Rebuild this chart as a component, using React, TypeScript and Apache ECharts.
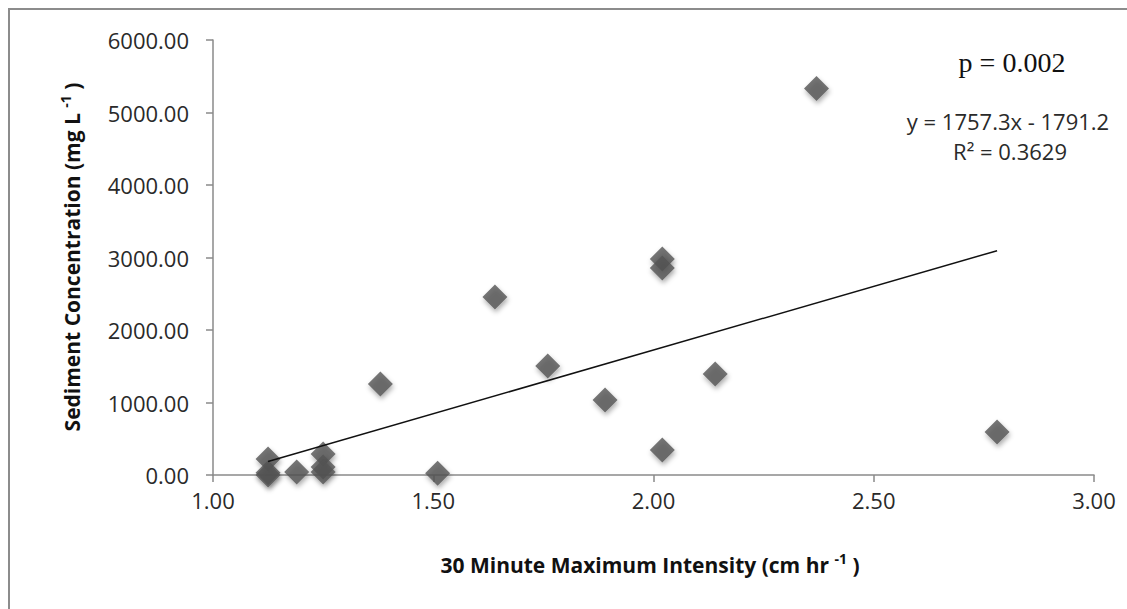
import React, { useEffect, useRef } from "react";
import * as echarts from "echarts";

const intensity = [1.125, 1.125, 1.125, 1.19, 1.25, 1.25, 1.25, 1.38, 1.51, 1.64, 1.76, 1.89, 2.02, 2.02, 2.02, 2.14, 2.37, 2.78];
const sediment = [220, 30, 0, 40, 290, 110, 40, 1255, 25, 2455, 1503, 1034, 2979, 2855, 345, 1393, 5330, 593];
const slope = 1757.3;
const intercept = -1791.2;
const xTicks = { min: 1, max: 3, interval: 0.5 };
const yTicks = { min: 0, max: 6000, interval: 1000 };
const pText = "p = 0.002";
const eqText = "y = 1757.3x - 1791.2";
const r2Text = "R² = 0.3629";
const xTitle = ["30 Minute Maximum Intensity (cm hr ", "-1", " )"];
const yTitle = ["Sediment Concentration (mg L ", "-1", " )"];

export default function App() {
  const ref = useRef<HTMLDivElement>(null);
  useEffect(() => {
    if (!ref.current) return;
    const chart = echarts.init(ref.current, null, { renderer: "svg" });
    const pts = intensity.map((x, i) => [x, sediment[i]]);
    const xMin = Math.min(...intensity);
    const xMax = Math.max(...intensity);
    const trend = [
      [xMin, slope * xMin + intercept],
      [xMax, slope * xMax + intercept],
    ];
    const font = "'Open Sans', sans-serif";
    chart.setOption({
      animation: false,
      backgroundColor: "#ffffff",
      grid: { left: 213, right: 33, top: 40, bottom: 134 },
      xAxis: {
        type: "value",
        min: xTicks.min,
        max: xTicks.max,
        interval: xTicks.interval,
        axisLine: { show: true, lineStyle: { color: "#8a8a8a", width: 1.5 } },
        axisTick: { show: true, length: 7, lineStyle: { color: "#8a8a8a", width: 1.5 } },
        splitLine: { show: false },
        axisLabel: {
          margin: 14,
          color: "#2a2a2a",
          fontSize: 22,
          fontFamily: font,
          formatter: (v: number) => v.toFixed(2),
        },
      },
      yAxis: {
        type: "value",
        min: yTicks.min,
        max: yTicks.max,
        interval: yTicks.interval,
        axisLine: { show: true, lineStyle: { color: "#8a8a8a", width: 1.5 } },
        axisTick: { show: true, length: 7, lineStyle: { color: "#8a8a8a", width: 1.5 } },
        splitLine: { show: false },
        axisLabel: {
          margin: 24,
          color: "#2a2a2a",
          fontSize: 22,
          fontFamily: font,
          formatter: (v: number) => v.toFixed(2),
        },
      },
      series: [
        {
          type: "scatter",
          data: pts,
          symbol: "diamond",
          symbolSize: 25,
          z: 2,
          itemStyle: {
            color: "#545454",
            shadowBlur: 5,
            shadowOffsetX: 1,
            shadowOffsetY: 3,
            shadowColor: "rgba(0,0,0,0.4)",
          },
        },
        {
          type: "line",
          data: trend,
          symbol: "none",
          z: 3,
          lineStyle: { color: "#111", width: 1.5 },
        },
      ],
      graphic: [
        {
          type: "rect",
          shape: { x: 9, y: 9, width: 1300, height: 800 },
          style: { fill: "none", stroke: "#8c8c8c", lineWidth: 2 },
          silent: true,
        },
        {
          type: "text",
          x: 1012,
          y: 62,
          style: {
            text: pText,
            font: "28px 'Liberation Serif', serif",
            fill: "#111",
            align: "center",
            verticalAlign: "middle",
          },
        },
        {
          type: "text",
          x: 1008,
          y: 121,
          style: {
            text: eqText,
            font: `22px ${font}`,
            fill: "#2a2a2a",
            align: "center",
            verticalAlign: "middle",
          },
        },
        {
          type: "text",
          x: 1010,
          y: 151,
          style: {
            text: r2Text,
            font: `22px ${font}`,
            fill: "#2a2a2a",
            align: "center",
            verticalAlign: "middle",
          },
        },
        {
          type: "text",
          x: 650,
          y: 565,
          style: {
            text: `{a|${xTitle[0]}}{s|${xTitle[1]}}{a|${xTitle[2]}}`,
            align: "center",
            verticalAlign: "middle",
            rich: {
              a: { fontSize: 21, fontWeight: "bold", fontFamily: font, fill: "#111", color: "#111", lineHeight: 28 },
              s: { fontSize: 14, fontWeight: "bold", fontFamily: font, fill: "#111", color: "#111", verticalAlign: "top", lineHeight: 28, padding: [0, 0, 10, 0] },
            },
          },
        },
        {
          type: "text",
          x: 72,
          y: 257,
          rotation: Math.PI / 2,
          style: {
            text: `{a|${yTitle[0]}}{s|${yTitle[1]}}{a|${yTitle[2]}}`,
            align: "center",
            verticalAlign: "middle",
            rich: {
              a: { fontSize: 21, fontWeight: "bold", fontFamily: font, fill: "#111", color: "#111", lineHeight: 28 },
              s: { fontSize: 14, fontWeight: "bold", fontFamily: font, fill: "#111", color: "#111", verticalAlign: "top", lineHeight: 28, padding: [0, 0, 10, 0] },
            },
          },
        },
      ],
    });
    return () => chart.dispose();
  }, []);
  return (
    <div
      ref={ref}
      style={{ position: "fixed", left: 0, top: 0, width: 1127, height: 609, background: "#fff" }}
    />
  );
}
